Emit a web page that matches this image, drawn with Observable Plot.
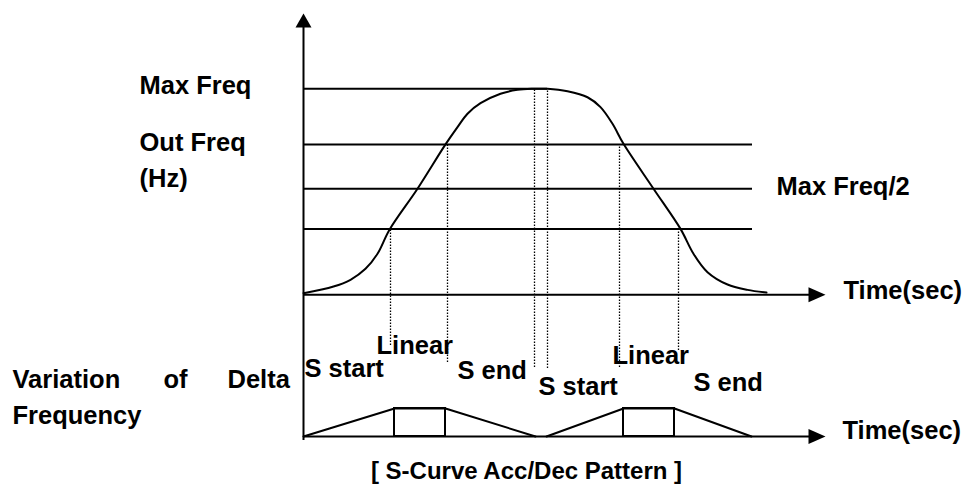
<!DOCTYPE html>
<html>
<head>
<meta charset="utf-8">
<script src="https://cdn.jsdelivr.net/npm/d3@7"></script>
<script src="https://cdn.jsdelivr.net/npm/@observablehq/plot@0.6"></script>
<style>
  html, body { margin: 0; padding: 0; background: #fff; }
  #wrap { position: relative; width: 963px; height: 486px; overflow: hidden; }
  #wrap svg { position: absolute; left: 0; top: 0; background: transparent; }
</style>
</head>
<body>
<div id="wrap"></div>
<script>
// ---- Data (time in arbitrary units, frequency in % of Max Freq) ----
const curveT = [0, 30, 47, 62, 74, 86, 114, 142, 154, 164, 177, 197, 214, 230, 244, 264, 284, 297, 309, 320, 350, 377, 390, 404, 424, 444, 463];
const curveF = [0.8, 4.0, 7.3, 12.6, 19.9, 31.6, 51.5, 73.0, 81.4, 87.9, 93.0, 97.6, 99.5, 100, 100, 98.8, 95.9, 91.1, 83.0, 73.3, 51.5, 32.0, 19.9, 11.0, 5.0, 2.4, 1.1];

const levelF = [100, 73, 51.5, 32];
const levelEnd = [244, 449, 449, 449];

const boundT = [87, 144, 231, 244, 316, 375];
const boundTop = [32, 73, 100, 100, 73, 32];
const boundBottom = [-24.6, -32.9, -35.3, -35.8, -35.3, -27.0];

const timeEnd = 522;

const upperLabels = ["Max Freq", "Out Freq", "(Hz)", "Max Freq/2", "Time(sec)"];
const upperLabelT = [-164, -164, -164, 473, 540];
const upperLabelF = [101.6, 73.9, 56.5, 52.6, 2.1];

// Delta-frequency pulses (acc, dec)
const pulseT = [[0, 91, 142, 232], [243, 320, 371, 448]];
const pulseD = [0, 1, 1, 0];
const linearStart = [91, 320];
const linearEnd = [142, 371];

const lowerLabels = ["S start", "Linear", "S end", "S start", "Linear", "S end", "Time(sec)", "Variation", "of", "Delta", "Frequency"];
const lowerLabelT = [1, 73, 154, 235, 309, 390, 539, -291, -140, -76, -291];
const lowerLabelD = [2.43, 3.25, 2.36, 1.79, 2.89, 1.93, 0.21, 2.04, 2.04, 2.04, 0.75];

const caption = "[ S-Curve Acc/Dec Pattern ]";
const captionT = 223;
const captionD = -1.26;

// ---- Build tables ----
const curve = curveT.map((t, i) => ({t, f: curveF[i]}));
const levels = levelF.map((f, i) => ({f, end: levelEnd[i]}));
const bounds = boundT.map((t, i) => ({t, top: boundTop[i], bottom: boundBottom[i]}));
const upLab = upperLabels.map((s, i) => ({s, t: upperLabelT[i], f: upperLabelF[i]}));
const pulses = pulseT.flatMap((ts, k) => ts.map((t, i) => ({k, t, d: pulseD[i]})));
const rects = linearStart.map((a, i) => ({a, b: linearEnd[i]}));
const lowLab = lowerLabels.map((s, i) => ({s, t: lowerLabelT[i], d: lowerLabelD[i]}));

const font = "Liberation Sans, Arial, Helvetica, sans-serif";
const FS = 25.5;
const SW = 2;

// Arrowhead symbols: tip at the point
const arrowUp = {draw(ctx) { ctx.moveTo(0, 0); ctx.lineTo(-8, 14); ctx.lineTo(8, 14); ctx.closePath(); }};
const arrowRight = {draw(ctx) { ctx.moveTo(0, 0); ctx.lineTo(-17, -7.5); ctx.lineTo(-17, 7.5); ctx.closePath(); }};

const xScale = {domain: [0, timeEnd], range: [303, 825], axis: null};

const upper = Plot.plot({
  width: 963, height: 486,
  margin: 0,
  style: {background: "transparent", fontFamily: font},
  x: xScale,
  y: {domain: [0, 100], range: [294.3, 88.3], axis: null},
  marks: [
    Plot.ruleY(levels, {y: "f", x1: 0, x2: "end", stroke: "black", strokeWidth: SW}),
    Plot.ruleY([0], {x1: 0, x2: timeEnd - 12, stroke: "black", strokeWidth: SW}),
    Plot.ruleX([0], {y1: -70.7, y2: 130, stroke: "black", strokeWidth: SW}),
    Plot.ruleX(bounds, {x: "t", y1: "bottom", y2: "top", stroke: "black", strokeWidth: 1.3, strokeDasharray: "1.5,1.5"}),
    Plot.line(curve, {x: "t", y: "f", curve: "catmull-rom", stroke: "black", strokeWidth: 2}),
    Plot.dot([{t: 0, f: 136.6}], {x: "t", y: "f", symbol: arrowUp, fill: "black", stroke: "none"}),
    Plot.dot([{t: timeEnd, f: 0}], {x: "t", y: "f", symbol: arrowRight, fill: "black", stroke: "none"}),
    Plot.text(upLab, {x: "t", y: "f", text: "s", textAnchor: "start", fontSize: FS, fontWeight: "bold", fill: "black", fontFamily: font})
  ]
});

const lower = Plot.plot({
  width: 963, height: 486,
  margin: 0,
  style: {background: "transparent", fontFamily: font},
  x: xScale,
  y: {domain: [0, 1], range: [436, 408], axis: null},
  marks: [
    Plot.ruleY([0], {x1: 0, x2: timeEnd - 12, stroke: "black", strokeWidth: SW}),
    Plot.line(pulses, {x: "t", y: "d", z: "k", stroke: "black", strokeWidth: 2}),
    Plot.rect(rects, {x1: "a", x2: "b", y1: 0, y2: 1, fill: "none", stroke: "black", strokeWidth: 2}),
    Plot.dot([{t: timeEnd, d: 0}], {x: "t", y: "d", symbol: arrowRight, fill: "black", stroke: "none"}),
    Plot.text(lowLab, {x: "t", y: "d", text: "s", textAnchor: "start", fontSize: FS, fontWeight: "bold", fill: "black", fontFamily: font}),
    Plot.text([caption], {x: captionT, y: captionD, text: d => d, textAnchor: "middle", fontSize: 24, fontWeight: "bold", fill: "black", fontFamily: font})
  ]
});

document.getElementById("wrap").append(upper, lower);
</script>
</body>
</html>
